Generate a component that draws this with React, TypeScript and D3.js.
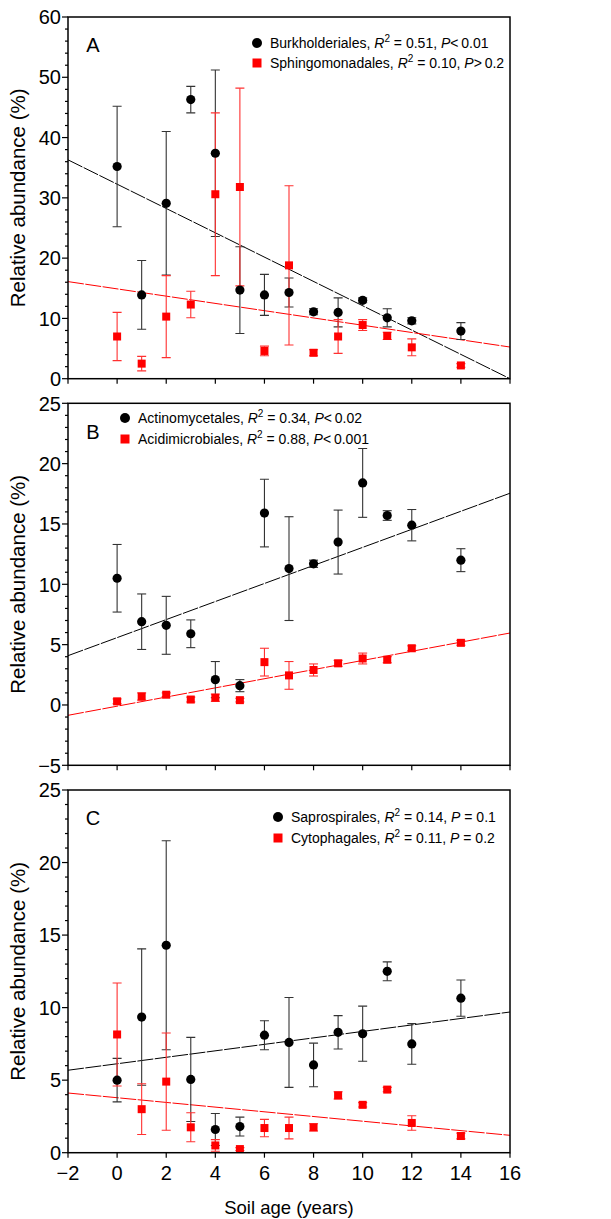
import React from 'react'
import * as d3 from 'd3'

// soil age (years) for every sample
const ages = [0, 1, 2, 3, 4, 5, 6, 7, 8, 9, 10, 11, 12, 14]

// Panel A
const burkMean = [35.2, 13.9, 29.1, 46.3, 37.4, 14.7, 13.9, 14.3, 11.1, 11.0, 13.0, 10.1, 9.6, 7.9]
const burkSe = [10.0, 5.7, 11.9, 2.2, 13.8, 7.2, 3.4, 2.4, 0.5, 2.4, 0.4, 1.5, 0.5, 1.4]
const sphMean = [7.0, 2.5, 10.3, 12.3, 30.6, 31.8, 4.6, 18.8, 4.3, 7.0, 8.9, 7.1, 5.2, 2.2]
const sphSe = [4.0, 1.2, 6.8, 2.2, 13.5, 16.4, 0.8, 13.2, 0.5, 2.8, 0.9, 0.6, 1.4, 0.3]
const fitBurk = [-2.017, 32.27] // slope, intercept
const fitSph = [-0.603, 14.9]

// Panel B
const actMean = [10.5, 6.9, 6.6, 5.9, 2.1, 1.6, 15.9, 11.3, 11.7, 13.5, 18.4, 15.7, 14.9, 12.0]
const actSe = [2.8, 2.3, 2.4, 1.15, 1.5, 0.5, 2.8, 4.3, 0.3, 2.65, 2.85, 0.4, 1.3, 0.95]
const acdMean = [0.3, 0.7, 0.85, 0.45, 0.6, 0.4, 3.55, 2.45, 2.9, 3.45, 3.85, 3.75, 4.7, 5.15]
const acdSe = [0.2, 0.3, 0.15, 0.2, 0.3, 0.15, 1.15, 1.15, 0.5, 0.25, 0.45, 0.25, 0.2, 0.2]
const fitAct = [0.748, 5.58]
const fitAcd = [0.379, -0.1]

// Panel C
const sapMean = [5.0, 9.35, 14.3, 5.05, 1.6, 1.8, 8.1, 7.6, 6.05, 8.3, 8.2, 12.5, 7.5, 10.65]
const sapSe = [1.5, 4.7, 7.2, 2.9, 1.1, 0.65, 1.0, 3.1, 1.5, 1.15, 1.9, 0.65, 1.4, 1.25]
const cytMean = [8.15, 3.0, 4.9, 1.75, 0.5, 0.25, 1.7, 1.7, 1.75, 3.95, 3.3, 4.35, 2.05, 1.15]
const cytSe = [3.55, 1.75, 3.35, 1.0, 0.4, 0.1, 0.6, 0.75, 0.25, 0.25, 0.15, 0.15, 0.5, 0.2]
const fitSap = [0.223, 6.13]
const fitCyt = [-0.162, 3.79]

const xTicks = [-2, 0, 2, 4, 6, 8, 10, 12, 14, 16]

const FONT = 'Liberation Sans, Arial, Helvetica, sans-serif'
const RED = '#ff0000'
const W = 611, H = 1219
const left = 68, right = 510
const x = d3.scaleLinear().domain([-2, 16]).range([left, right])
const fmt = (v: number) => (v < 0 ? '\u2212' + Math.abs(v) : String(v))

type Series = {
  name: string; mean: number[]; se: number[]; fit: number[]
  shape: 'circle' | 'square'; r2: string; op: string; p: string
}

function Legend({ series, lx, ly, gap }: { series: Series[]; lx: number; ly: number; gap: number }) {
  return (
    <g fontFamily={FONT} fontSize={14}>
      {series.map((s, i) => {
        const cy = ly + i * gap
        const sp = s.op === '=' ? ' = ' : s.op + '\u2009'
        return (
          <g key={s.name}>
            {s.shape === 'circle'
              ? <circle cx={lx} cy={cy} r={5} fill="#000" />
              : <rect x={lx - 4.5} y={cy - 4.5} width={9} height={9} fill={RED} />}
            <text x={lx + 13} y={cy} dy="0.36em" fill="#000">
              {s.name + ', '}
              <tspan fontStyle="italic">R</tspan>
              <tspan fontSize={10} dy={-6}>2</tspan>
              <tspan dy={6}>{' = ' + s.r2 + ', '}</tspan>
              <tspan fontStyle="italic">P</tspan>
              <tspan>{sp + s.p}</tspan>
            </text>
          </g>
        )
      })}
    </g>
  )
}

function Panel(props: {
  id: string; top: number; bottom: number; domain: [number, number]; major: number; minor: number
  label: string; series: Series[]; lx: number; ly: number; gap: number; xLabels: boolean
}) {
  const { id, top, bottom, domain, major, minor, label, series, lx, ly, gap, xLabels } = props
  const y = d3.scaleLinear().domain(domain).range([bottom, top])
  const majors = d3.range(domain[0], domain[1] + 0.001, major)
  const minors = d3.range(domain[0], domain[1] + 0.001, minor).filter(v => Math.abs(v / major - Math.round(v / major)) > 1e-6)
  return (
    <g>
      <defs>
        <clipPath id={id}>
          <rect x={left} y={top} width={right - left} height={bottom - top} />
        </clipPath>
      </defs>
      {/* regression lines */}
      <g clipPath={`url(#${id})`}>
        {series.map(s => {
          const pts: [number, number][] = [-2, 16].map(v => [x(v), y(s.fit[0] * v + s.fit[1])])
          return <path key={s.name} d={d3.line()(pts) || ''} fill="none"
            stroke={s.shape === 'circle' ? '#000' : RED} strokeWidth={1} strokeDasharray="16,1.5" />
        })}
      </g>
      {/* error bars + markers */}
      <g clipPath={`url(#${id})`}>
        {series.map(s => (
          <g key={s.name} stroke={s.shape === 'circle' ? '#333' : '#ff3030'} strokeWidth={1.1}>
            {ages.map((a, i) => {
              const lo = y(s.mean[i] - s.se[i]), hi = y(s.mean[i] + s.se[i]), cx = x(a)
              return (
                <g key={a}>
                  <line x1={cx} x2={cx} y1={lo} y2={hi} />
                  <line x1={cx - 4.5} x2={cx + 4.5} y1={lo} y2={lo} />
                  <line x1={cx - 4.5} x2={cx + 4.5} y1={hi} y2={hi} />
                </g>
              )
            })}
          </g>
        ))}
        {series.map(s => (
          <g key={s.name + 'm'}>
            {ages.map((a, i) => s.shape === 'circle'
              ? <circle key={a} cx={x(a)} cy={y(s.mean[i])} r={4.6} fill="#000" />
              : <rect key={a} x={x(a) - 4} y={y(s.mean[i]) - 4} width={8} height={8} fill={RED} />)}
          </g>
        ))}
      </g>
      {/* frame */}
      <rect x={left} y={top} width={right - left} height={bottom - top} fill="none" stroke="#000" strokeWidth={1.5} />
      {/* ticks */}
      <g stroke="#000" strokeWidth={1.2}>
        {majors.map(v => <line key={'M' + v} x1={left - 6} x2={left} y1={y(v)} y2={y(v)} />)}
        {minors.map(v => <line key={'m' + v} x1={left - 3} x2={left} y1={y(v)} y2={y(v)} />)}
        {xTicks.map(v => <line key={'x' + v} x1={x(v)} x2={x(v)} y1={bottom} y2={bottom + 5} />)}
      </g>
      <g fontFamily={FONT} fontSize={20} fill="#000" textAnchor="end">
        {majors.map(v => <text key={v} x={left - 7} y={y(v)} dy="0.36em">{fmt(v)}</text>)}
      </g>
      {xLabels && (
        <g fontFamily={FONT} fontSize={20} fill="#000" textAnchor="middle">
          {xTicks.map(v => <text key={v} x={x(v)} y={bottom + 27.5}>{fmt(v)}</text>)}
        </g>
      )}
      <text fontFamily={FONT} fontSize={20.5} textAnchor="middle"
        transform={`translate(25,${(top + bottom) / 2}) rotate(-90)`}>Relative abundance (%)</text>
      <text x={93} y={top + 28} dy="0.36em" fontFamily={FONT} fontSize={20} textAnchor="middle">{label}</text>
      <Legend series={series} lx={lx} ly={ly} gap={gap} />
    </g>
  )
}

export default function App() {
  const A: Series[] = [
    { name: 'Burkholderiales', mean: burkMean, se: burkSe, fit: fitBurk, shape: 'circle', r2: '0.51', op: '<', p: '0.01' },
    { name: 'Sphingomonadales', mean: sphMean, se: sphSe, fit: fitSph, shape: 'square', r2: '0.10', op: '>', p: '0.2' },
  ]
  const B: Series[] = [
    { name: 'Actinomycetales', mean: actMean, se: actSe, fit: fitAct, shape: 'circle', r2: '0.34', op: '<', p: '0.02' },
    { name: 'Acidimicrobiales', mean: acdMean, se: acdSe, fit: fitAcd, shape: 'square', r2: '0.88', op: '<', p: '0.001' },
  ]
  const C: Series[] = [
    { name: 'Saprospirales', mean: sapMean, se: sapSe, fit: fitSap, shape: 'circle', r2: '0.14', op: '=', p: '0.1' },
    { name: 'Cytophagales', mean: cytMean, se: cytSe, fit: fitCyt, shape: 'square', r2: '0.11', op: '=', p: '0.2' },
  ]
  return (
    <svg width={W} height={H} style={{ position: 'absolute', left: 0, top: 0, background: '#fff' }}>
      <rect width={W} height={H} fill="#fff" />
      <Panel id="cA" top={17} bottom={378.7} domain={[0, 60]} major={10} minor={2} label="A"
        series={A} lx={257} ly={43} gap={20} xLabels={false} />
      <Panel id="cB" top={403.3} bottom={765.3} domain={[-5, 25]} major={5} minor={1} label="B"
        series={B} lx={125} ly={418} gap={21} xLabels={false} />
      <Panel id="cC" top={790} bottom={1152.7} domain={[0, 25]} major={5} minor={1} label="C"
        series={C} lx={278} ly={817} gap={21} xLabels={true} />
      <text x={(left + right) / 2} y={1214} fontFamily={FONT} fontSize={18.5} textAnchor="middle">Soil age (years)</text>
    </svg>
  )
}
